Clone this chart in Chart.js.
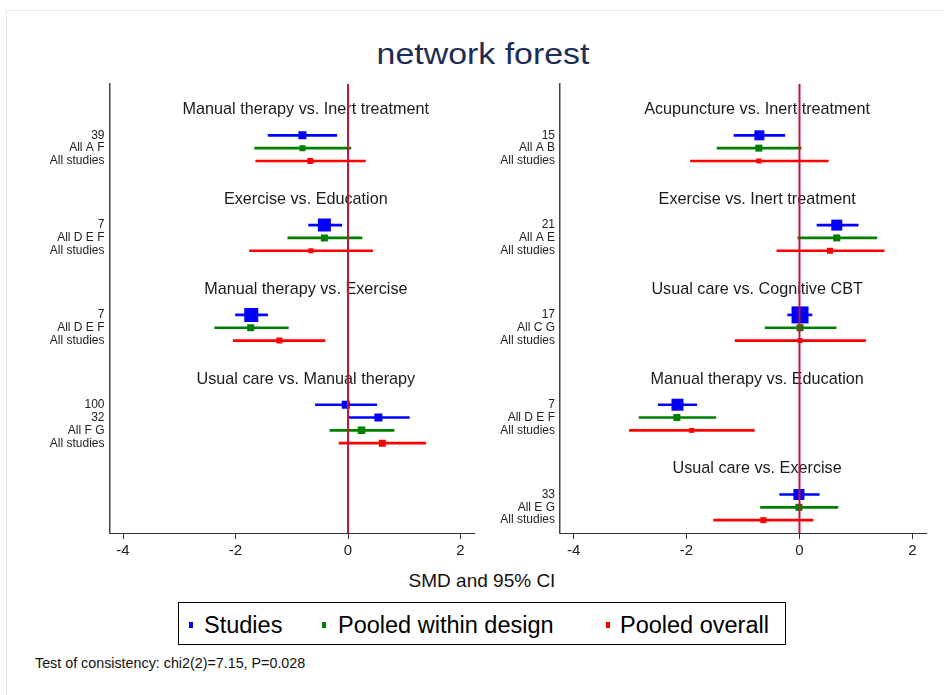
<!DOCTYPE html>
<html>
<head>
<meta charset="utf-8">
<script src="https://cdn.jsdelivr.net/npm/chart.js@4.4.0/dist/chart.umd.min.js"></script>
<style>
body { margin: 0; background: #fff; font-family: "Liberation Sans", Arial, sans-serif; }
#page { position: relative; width: 944px; height: 695px; overflow: hidden; }
#frame { position: absolute; left: 6px; top: 10px; width: 960px; height: 700px; border: 1px solid #e3eaea; }
#title { position: absolute; left: 283px; width: 400px; top: 37px; text-align: center; font-size: 30px; color: #1f2d56; transform: scaleX(1.13); }
canvas { position: absolute; }
#xlabel { position: absolute; left: 332px; width: 300px; top: 570px; text-align: center; font-size: 19px; color: #111; }
#legend { position: absolute; left: 178px; top: 602px; width: 606px; height: 41px; border: 1.5px solid #000; }
#legend .mk { position: absolute; top: 19px; width: 4px; height: 6px; }
#legend .lt { position: absolute; top: 9px; font-size: 23.5px; line-height: 26px; color: #000; white-space: nowrap; }
#note { position: absolute; left: 35px; top: 655px; font-size: 14.3px; color: #111; white-space: nowrap; }
</style>
</head>
<body>
<div id="page">
  <div id="frame"></div>
  <div id="title">network forest</div>
  <canvas id="left" width="490" height="493" style="left:0;top:70px"></canvas>
  <canvas id="right" width="464" height="493" style="left:480px;top:70px"></canvas>
  <div id="xlabel">SMD and 95% CI</div>
  <div id="legend">
    <span class="mk" style="left:10px;background:#0000ff"></span><span class="lt" style="left:25px">Studies</span>
    <span class="mk" style="left:143px;background:#008000"></span><span class="lt" style="left:159px">Pooled within design</span>
    <span class="mk" style="left:427px;background:#ff0000"></span><span class="lt" style="left:441px">Pooled overall</span>
  </div>
  <div id="note">Test of consistency: chi2(2)=7.15, P=0.028</div>
</div>
<script>
// left column of comparisons
const leftGroups = ['Manual therapy vs. Inert treatment', 'Exercise vs. Education', 'Manual therapy vs. Exercise', 'Usual care vs. Manual therapy'];
const leftGroupSizes = [3, 3, 3, 4];
const leftLabels = ['39', 'All A F', 'All studies', '7', 'All D E F', 'All studies', '7', 'All D E F', 'All studies', '100', '32', 'All F G', 'All studies'];
const leftKinds = ['S', 'D', 'O', 'S', 'D', 'O', 'S', 'D', 'O', 'S', 'S', 'D', 'O'];
const leftEst = [-0.81, -0.81, -0.67, -0.42, -0.42, -0.66, -1.72, -1.73, -1.22, -0.04, 0.54, 0.24, 0.61];
const leftLow = [-1.42, -1.66, -1.64, -0.70, -1.07, -1.75, -2.00, -2.37, -2.04, -0.58, -0.01, -0.32, -0.16];
const leftHigh = [-0.20, 0.05, 0.31, -0.11, 0.25, 0.44, -1.43, -1.06, -0.41, 0.51, 1.09, 0.82, 1.38];
const leftWeight = [8, 6, 6, 13, 7, 5, 14, 7, 6, 8, 8, 7.5, 7];

// right column of comparisons
const rightGroups = ['Acupuncture vs. Inert treatment', 'Exercise vs. Inert treatment', 'Usual care vs. Cognitive CBT', 'Manual therapy vs. Education', 'Usual care vs. Exercise'];
const rightGroupSizes = [3, 3, 3, 3, 3];
const rightLabels = ['15', 'All A B', 'All studies', '21', 'All A E', 'All studies', '17', 'All C G', 'All studies', '7', 'All D E F', 'All studies', '33', 'All E G', 'All studies'];
const rightKinds = ['S', 'D', 'O', 'S', 'D', 'O', 'S', 'D', 'O', 'S', 'D', 'O', 'S', 'D', 'O'];
const rightEst = [-0.71, -0.72, -0.72, 0.66, 0.66, 0.54, 0.01, 0.01, 0.01, -2.16, -2.17, -1.91, -0.01, -0.01, -0.64];
const rightLow = [-1.16, -1.46, -1.93, 0.31, -0.03, -0.40, -0.21, -0.61, -1.14, -2.50, -2.84, -3.01, -0.35, -0.69, -1.52];
const rightHigh = [-0.26, 0.03, 0.51, 1.04, 1.37, 1.50, 0.22, 0.65, 1.17, -1.82, -1.48, -0.80, 0.35, 0.68, 0.24];
const rightWeight = [10, 7, 5, 11, 7, 6, 17, 7, 5, 12, 7, 5, 11, 7, 6];

const xTicks = [-4, -2, 0, 2];

const FONT = '"Liberation Sans", Arial, sans-serif';
const kindColor = { S: '#0000ff', D: '#008000', O: '#ff0000' };
const ROWS = 35;          // rows in each column
const GROUP_STEP = 7;     // rows taken by one comparison
const TITLE_X = -0.75;    // where the comparison titles are centred

function layoutRows(sizes) {
    const titleRows = [];
    const rows = [];
    sizes.forEach((n, g) => {
        const start = 2 + GROUP_STEP * g;
        titleRows.push(start);
        for (let i = 0; i < n; i++) rows.push(start + 2 + i);
    });
    return { titleRows, rows };
}

const groupTitles = {
    id: 'groupTitles',
    beforeDatasetsDraw(chart, args, opts) {
        const { ctx, scales: { x, y } } = chart;
        ctx.save();
        ctx.font = '16.2px ' + FONT;
        ctx.fillStyle = '#1a1a1a';
        ctx.textAlign = 'center';
        ctx.textBaseline = 'middle';
        opts.titles.forEach((t, i) => {
            ctx.fillText(t, x.getPixelForValue(TITLE_X), y.getPixelForValue(opts.rows[i]));
        });
        ctx.restore();
    }
};

function makePanel(id, groups, sizes, labels, kinds, est, low, high, weight, padLeft, padRight) {
    const { titleRows, rows } = layoutRows(sizes);
    const colors = kinds.map(k => kindColor[k]);

    new Chart(document.getElementById(id), {
        type: 'scatter',
        data: {
            datasets: [
                {
                    type: 'line',
                    data: [{ x: 0, y: 0 }, { x: 0, y: ROWS }],
                    borderColor: '#c8143c',
                    borderWidth: 2,
                    pointRadius: 0,
                    order: 0
                },
                {
                    type: 'scatter',
                    data: rows.map((r, i) => ({ x: est[i], y: r })),
                    pointStyle: 'rect',
                    pointRadius: weight.map(w => w / Math.SQRT2),
                    backgroundColor: colors,
                    borderWidth: 0,
                    order: 1
                },
                {
                    type: 'bar',
                    indexAxis: 'y',
                    data: rows.map((r, i) => ({ x: [low[i], high[i]], y: r })),
                    backgroundColor: colors,
                    barThickness: 2,
                    maxBarThickness: 2,
                    borderWidth: 0,
                    order: 2
                }
            ]
        },
        options: {
            responsive: false,
            animation: false,
            events: [],
            layout: { padding: { left: padLeft, right: padRight, top: 14, bottom: 0 } },
            plugins: {
                legend: { display: false },
                tooltip: { enabled: false },
                groupTitles: { titles: groups, rows: titleRows }
            },
            scales: {
                x: {
                    type: 'linear',
                    min: -4.24,
                    max: 2.24,
                    offset: false,
                    afterBuildTicks: s => { s.ticks = xTicks.map(v => ({ value: v })); },
                    afterFit: s => { s.height = 30; },
                    grid: { drawOnChartArea: false, drawTicks: true, tickLength: 6, color: '#333', offset: false },
                    border: { display: true, color: '#333', width: 1 },
                    ticks: { color: '#222', font: { family: FONT, size: 15 }, padding: 3, maxRotation: 0 }
                },
                y: {
                    type: 'linear',
                    reverse: true,
                    min: 0,
                    max: ROWS,
                    offset: false,
                    afterBuildTicks: s => { s.ticks = rows.map(v => ({ value: v })); },
                    afterFit: s => { s.width = 75; },
                    grid: { drawOnChartArea: false, drawTicks: false, offset: false },
                    border: { display: true, color: '#444', width: 1.5 },
                    ticks: {
                        autoSkip: false,
                        color: '#222',
                        padding: 5,
                        font: { family: FONT, size: 12 },
                        callback: (v, i) => labels[i]
                    }
                }
            }
        },
        plugins: [groupTitles]
    });
}

makePanel('left', leftGroups, leftGroupSizes, leftLabels, leftKinds, leftEst, leftLow, leftHigh, leftWeight, 34.5, 16);
makePanel('right', rightGroups, rightGroupSizes, rightLabels, rightKinds, rightEst, rightLow, rightHigh, rightWeight, 5, 18);
</script>
</body>
</html>
